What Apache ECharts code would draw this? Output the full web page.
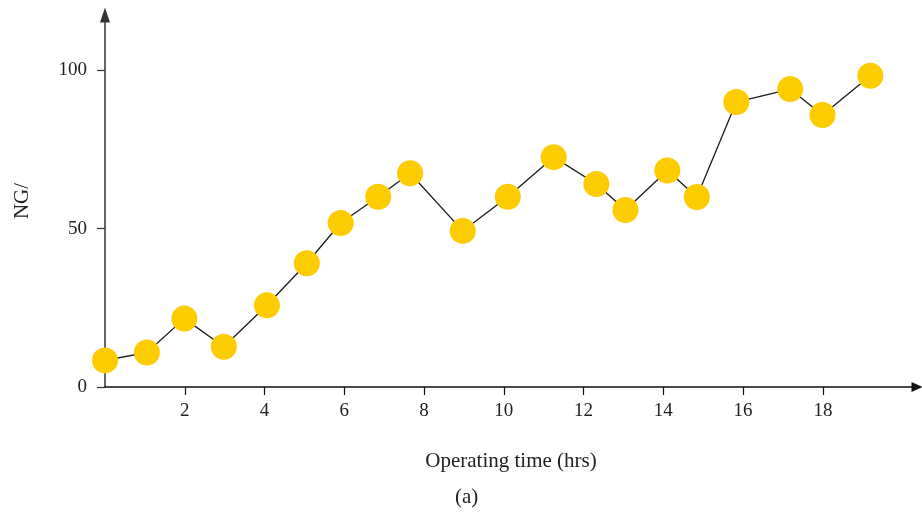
<!DOCTYPE html>
<html>
<head>
<meta charset="utf-8">
<script src="https://cdn.jsdelivr.net/npm/echarts@6/dist/echarts.min.js"></script>
<style>
  html, body { margin: 0; padding: 0; background: #fff; }
  #chart { width: 922px; height: 513px; }
</style>
</head>
<body>
<div id="chart"></div>
<script>
// Operating time (hours) of each measurement
const hours = [0, 1.05, 1.99, 2.98, 4.06, 5.06, 5.91, 6.85, 7.65, 8.97,
               10.1, 11.25, 12.32, 13.05, 14.1, 14.84, 15.83, 17.18, 17.99, 19.19];
// NG reading at each measurement
const ngValues = [8.4, 10.9, 21.6, 12.7, 25.8, 39.1, 51.8, 60.1, 67.5, 49.3,
                  60.1, 72.6, 64.1, 55.9, 68.4, 60.0, 90.0, 94.1, 85.9, 98.3];
// Tick labels
const xTicks = [2, 4, 6, 8, 10, 12, 14, 16, 18];
const yTicks = [0, 50, 100];

const font = '"Liberation Serif", "DejaVu Serif", serif';
const points = hours.map((h, i) => [h, ngValues[i]]);

const chart = echarts.init(document.getElementById('chart'));
chart.setOption({
  animation: false,
  backgroundColor: '#ffffff',
  grid: { left: 105, right: 5, top: 15, bottom: 126, containLabel: false },
  xAxis: {
    type: 'value',
    min: 0,
    max: 20.36,
    interval: 2,
    splitLine: { show: false },
    axisLine: {
      show: true,
      lineStyle: { color: '#111', width: 1.5 },
      symbol: ['none', 'triangle'],
      symbolSize: [10, 11]
    },
    axisTick: { show: true, length: 8, customValues: xTicks, lineStyle: { color: '#111', width: 1.2 } },
    axisLabel: { customValues: xTicks, margin: 15, color: '#222', fontSize: 19, fontFamily: font },
    name: 'Operating time (hrs)',
    nameLocation: 'middle',
    nameGap: 64,
    nameTextStyle: { color: '#222', fontSize: 21, fontFamily: font }
  },
  yAxis: {
    type: 'value',
    min: 0,
    max: 117.5,
    interval: 50,
    splitLine: { show: false },
    axisLine: {
      show: true,
      lineStyle: { color: '#333', width: 1.5 },
      symbol: ['none', 'triangle'],
      symbolSize: [10, 15]
    },
    axisTick: { show: true, length: 8, customValues: yTicks, lineStyle: { color: '#333', width: 1.2 } },
    axisLabel: { customValues: yTicks, margin: 18, color: '#222', fontSize: 19, fontFamily: font },
    name: 'NG/',
    nameLocation: 'middle',
    nameGap: 72,
    nameRotate: 90,
    nameTextStyle: { color: '#222', fontSize: 21, fontFamily: font }
  },
  graphic: [{
    type: 'text',
    left: 455,
    top: 487,
    style: { text: '(a)', fill: '#222', font: '21px ' + font }
  }],
  series: [{
    type: 'line',
    data: points,
    symbol: 'circle',
    symbolSize: 26,
    itemStyle: { color: '#fdcc00', borderWidth: 0 },
    lineStyle: { color: '#1a1a1a', width: 1.3 },
    z: 3
  }]
});
</script>
</body>
</html>
